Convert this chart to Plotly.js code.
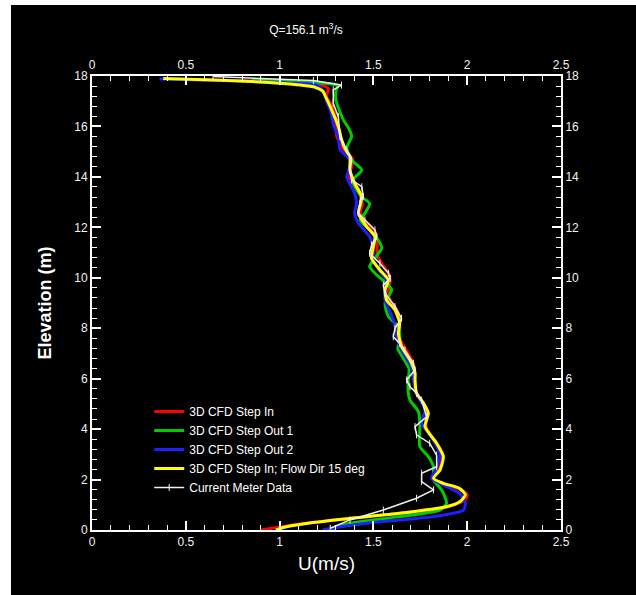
<!DOCTYPE html>
<html>
<head>
<meta charset="utf-8">
<script src="https://cdn.plot.ly/plotly-3.0.1.min.js"></script>
<style>
html,body{margin:0;padding:0;background:#ffffff;}
#chart{position:absolute;left:11px;top:5px;width:625px;height:590px;}
</style>
</head>
<body>
<div id="chart"></div>
<script>
// Series names
const seriesNames = ["3D CFD Step In", "3D CFD Step Out 1", "3D CFD Step Out 2", "3D CFD Step In; Flow Dir 15 deg", "Current Meter Data"];

// 3D CFD Step In (red)
const stepInElev = [17.87,17.8,17.72,17.6,17.5,17.2,16.8,16.3,15.9,15.6,15.1,14.7,14.3,14.0,13.6,13.3,12.9,12.6,12.3,11.8,11.3,10.9,10.5,10.2,9.9,9.5,9.1,8.8,8.4,8.0,7.6,7.2,6.8,6.4,6.0,5.6,5.2,4.8,4.4,4.1,3.8,3.4,3.0,2.6,2.3,2.05,1.85,1.65,1.4,1.2,1.0,0.85,0.7,0.55,0.4,0.25,0.12,0.0];
const stepInU    = [0.45,0.9,1.15,1.24,1.26,1.25,1.28,1.30,1.30,1.305,1.34,1.39,1.38,1.37,1.40,1.43,1.44,1.43,1.45,1.51,1.52,1.52,1.55,1.58,1.59,1.58,1.59,1.62,1.64,1.64,1.64,1.67,1.70,1.72,1.72,1.72,1.75,1.78,1.78,1.78,1.80,1.84,1.87,1.86,1.84,1.82,1.87,1.95,2.0,1.99,1.93,1.85,1.68,1.50,1.30,1.12,1.0,0.9];

// 3D CFD Step Out 1 (green)
const stepOut1Elev = [17.85,17.75,17.68,17.62,17.4,17.05,16.6,16.26,15.9,15.6,15.15,14.67,14.27,13.88,13.5,13.2,12.95,12.56,12.29,11.9,11.5,11.17,10.7,10.44,10.1,9.78,9.52,8.99,8.46,8.06,7.6,7.2,6.8,6.4,5.95,5.5,5.15,4.69,4.1,3.7,3.3,2.91,2.51,1.98,1.59,1.06,0.79,0.53,0.27,0.1,0.0];
const stepOut1U    = [0.85,1.15,1.28,1.31,1.30,1.30,1.32,1.34,1.37,1.384,1.358,1.384,1.438,1.39,1.41,1.438,1.48,1.455,1.43,1.48,1.526,1.544,1.50,1.48,1.52,1.57,1.597,1.562,1.58,1.633,1.64,1.63,1.66,1.69,1.686,1.685,1.695,1.74,1.748,1.745,1.748,1.793,1.82,1.82,1.864,1.89,1.855,1.64,1.375,1.30,1.28];

// 3D CFD Step Out 2 (blue)
const stepOut2Elev = [17.88,17.8,17.72,17.64,17.4,17.0,16.65,16.39,16.0,15.6,15.07,14.67,14.3,14.0,13.35,12.95,12.56,12.16,11.63,11.1,10.7,10.3,9.91,9.52,9.12,8.7,8.33,7.9,7.5,7.0,6.5,5.95,5.4,4.76,4.23,3.57,2.97,2.45,2.05,1.78,1.45,1.06,0.79,0.53,0.27,0.1,0.0];
const stepOut2U    = [0.36,0.8,1.05,1.2,1.235,1.25,1.27,1.278,1.29,1.313,1.322,1.375,1.37,1.358,1.40,1.41,1.40,1.42,1.48,1.50,1.50,1.53,1.57,1.562,1.562,1.585,1.606,1.62,1.63,1.66,1.70,1.713,1.73,1.775,1.757,1.82,1.855,1.837,1.81,1.873,1.96,1.99,1.98,1.82,1.464,1.30,1.23];

// 3D CFD Step In; Flow Dir 15 deg (yellow)
const flowDirElev = [17.9,17.85,17.78,17.71,17.64,17.55,17.4,17.18,16.65,16.0,15.46,15.1,14.8,14.27,13.75,13.22,12.9,12.56,12.03,11.63,11.23,10.77,10.31,9.91,9.52,9.12,8.72,8.2,7.8,7.27,6.74,6.21,5.95,5.42,5.0,4.63,4.1,3.44,2.91,2.38,2.05,1.85,1.65,1.39,1.12,0.92,0.66,0.46,0.27,0.1,0.0];
const flowDirU    = [0.38,0.6,0.85,1.0,1.11,1.19,1.23,1.245,1.278,1.313,1.331,1.35,1.375,1.375,1.40,1.438,1.43,1.42,1.464,1.508,1.50,1.49,1.535,1.58,1.562,1.57,1.615,1.64,1.633,1.65,1.695,1.722,1.722,1.73,1.77,1.793,1.775,1.837,1.873,1.855,1.82,1.873,1.96,1.99,1.96,1.89,1.64,1.375,1.15,1.02,0.98];

// Current Meter Data (white)
const meterElev = [17.98,17.82,17.64,17.45,16.92,16.39,15.6,15.07,14.67,14.27,13.88,13.61,13.22,13.08,12.56,12.29,11.9,11.63,11.3,10.97,10.57,10.18,9.98,9.71,9.39,8.86,8.39,8.0,7.66,7.4,7.14,6.61,6.34,5.95,5.68,5.42,5.15,4.49,4.1,3.77,3.44,2.97,2.51,2.25,1.92,1.59,1.26,0.79,0.4,0.07];
const meterU    = [0.645,1.18,1.33,1.286,1.286,1.313,1.322,1.358,1.384,1.375,1.384,1.438,1.446,1.43,1.42,1.455,1.508,1.518,1.49,1.48,1.535,1.58,1.59,1.553,1.562,1.615,1.65,1.615,1.606,1.64,1.668,1.713,1.722,1.677,1.695,1.73,1.757,1.784,1.722,1.73,1.80,1.837,1.837,1.757,1.757,1.82,1.73,1.553,1.375,1.27];

// Axis ticks
const xTickVals = [0,0.5,1,1.5,2,2.5];
const xTickText = ["0","0.5","1","1.5","2","2.5"];
const yTickVals = [0,2,4,6,8,10,12,14,16,18];
const yTickText = ["0","2","4","6","8","10","12","14","16","18"];

const colors = ["#ff0000","#00cc00","#1f1fff","#ffff00","#f0f0f0"];

const traces = [
  {x: stepInU, y: stepInElev, name: seriesNames[0], mode: "lines", line: {color: colors[0], width: 3, shape: "spline", smoothing: 0.6}},
  {x: stepOut1U, y: stepOut1Elev, name: seriesNames[1], mode: "lines", line: {color: colors[1], width: 3, shape: "spline", smoothing: 0.6}},
  {x: stepOut2U, y: stepOut2Elev, name: seriesNames[2], mode: "lines", line: {color: colors[2], width: 3, shape: "spline", smoothing: 0.6}},
  {x: flowDirU, y: flowDirElev, name: seriesNames[3], mode: "lines", line: {color: colors[3], width: 3, shape: "spline", smoothing: 0.6}},
  {x: meterU, y: meterElev, name: seriesNames[4], mode: "lines+markers", line: {color: colors[4], width: 1.5}, marker: {symbol: "line-ns", size: 5, color: colors[4], line: {color: colors[4], width: 1}}},
  {x: [null], y: [null], xaxis: "x2", yaxis: "y2", showlegend: false, hoverinfo: "skip", mode: "lines"}
];

const tickFont = {family: "Liberation Sans, Arial, sans-serif", size: 12, color: "#f2f2f2"};
const axisCommon = {
  showgrid: false, zeroline: false, showline: true, linecolor: "#ffffff", linewidth: 2,
  ticks: "inside", tickcolor: "#ffffff", tickwidth: 2, ticklen: 9,
  tickfont: tickFont, tickmode: "array"
};

const layout = {
  width: 625, height: 590,
  paper_bgcolor: "#000000", plot_bgcolor: "#000000",
  margin: {l: 81, r: 75, t: 71, b: 65},
  showlegend: true,
  title: {text: "Q=156.1 m<sup>3</sup>/s", font: {family: "Liberation Sans, Arial, sans-serif", size: 12, color: "#ffffff"}, x: 0.472, xref: "container", xanchor: "center", y: 0.958, yref: "container", yanchor: "middle"},
  xaxis: Object.assign({}, axisCommon, {
    range: [0, 2.5], tickvals: xTickVals, ticktext: xTickText, side: "bottom",
    minor: {dtick: 0.1, ticks: "inside", ticklen: 5, tickcolor: "#ffffff", tickwidth: 1},
    title: {text: "U(m/s)", font: {family: "Liberation Sans, Arial, sans-serif", size: 19, color: "#ffffff"}, standoff: 8}
  }),
  yaxis: Object.assign({}, axisCommon, {
    range: [0, 18], tickvals: yTickVals, ticktext: yTickText, side: "left",
    minor: {dtick: 0.4, tick0: 0, ticks: "inside", ticklen: 5, tickcolor: "#ffffff", tickwidth: 1},
    title: {text: "<b>Elevation (m)</b>", font: {family: "Liberation Sans, Arial, sans-serif", size: 18, color: "#ffffff"}, standoff: 18}
  }),
  xaxis2: Object.assign({}, axisCommon, {
    range: [0, 2.5], tickvals: xTickVals, ticktext: xTickText, side: "top", overlaying: "x", anchor: "y2",
    minor: {dtick: 0.1, ticks: "inside", ticklen: 5, tickcolor: "#ffffff", tickwidth: 1}
  }),
  yaxis2: Object.assign({}, axisCommon, {
    range: [0, 18], tickvals: yTickVals, ticktext: yTickText, side: "right", overlaying: "y", anchor: "x2",
    minor: {dtick: 0.4, tick0: 0, ticks: "inside", ticklen: 5, tickcolor: "#ffffff", tickwidth: 1}
  }),
  legend: {
    x: 0.122, y: 0.293, xanchor: "left", yanchor: "top",
    bgcolor: "rgba(0,0,0,0)", borderwidth: 0,
    font: {family: "Liberation Sans, Arial, sans-serif", size: 12, color: "#ffffff"},
    tracegroupgap: 0
  }
};

Plotly.newPlot("chart", traces, layout, {displayModeBar: false, staticPlot: true});
</script>
</body>
</html>
